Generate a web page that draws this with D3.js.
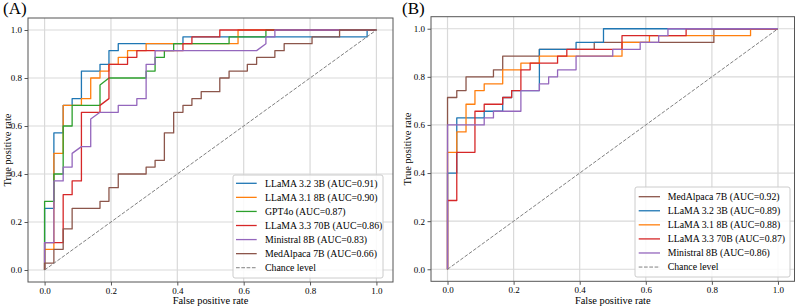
<!DOCTYPE html>
<html><head><meta charset="utf-8">
<script src="https://cdn.jsdelivr.net/npm/d3@7"></script>
<style>
body{margin:0;background:#fff}
svg{display:block}
svg text{font-family:'Liberation Serif','Times New Roman',Tinos,'DejaVu Serif',serif !important;fill:#000}
</style>
</head><body><svg id="c" width="796" height="308" style="font-family:'Liberation Serif',serif"></svg>
<script>
// ---------- data ----------
const tickValues = [0, 0.2, 0.4, 0.6, 0.8, 1.0];
const tickLabels = ["0.0", "0.2", "0.4", "0.6", "0.8", "1.0"];
const panelLetters = ["(A)", "(B)"];
const xAxisTitle = "False positive rate";
const yAxisTitle = "True positive rate";
const chanceLabel = "Chance level";
const chanceFpr = [0, 1];
const chanceTpr = [0, 1];

// Panel A
const namesA = ["LLaMA 3.2 3B", "LLaMA 3.1 8B", "GPT4o", "LLaMA 3.3 70B", "Ministral 8B", "MedAlpaca 7B"];
const aucA = ["0.91", "0.90", "0.87", "0.86", "0.83", "0.66"];
const fprA_llama32 = [0,0,0.028,0.028,0.056,0.056,0.083,0.083,0.111,0.111,0.167,0.167,0.194,0.194,0.222,0.222,0.417,0.417,0.972,0.972,1];
const tprA_llama32 = [0,0.257,0.257,0.571,0.571,0.686,0.686,0.714,0.714,0.829,0.829,0.857,0.857,0.914,0.914,0.943,0.943,0.971,0.971,1,1];
const fprA_llama31 = [0,0,0.028,0.028,0.056,0.056,0.111,0.111,0.139,0.139,0.167,0.167,0.194,0.194,0.222,0.222,0.25,0.25,0.306,0.306,0.583,0.583,1];
const tprA_llama31 = [0,0.086,0.086,0.486,0.486,0.686,0.686,0.714,0.714,0.8,0.8,0.829,0.829,0.857,0.857,0.886,0.886,0.914,0.914,0.943,0.943,1,1];
const fprA_gpt4o = [0,0,0.028,0.028,0.056,0.056,0.083,0.083,0.167,0.167,0.194,0.306,0.306,0.333,0.333,0.361,0.361,0.389,0.389,0.556,0.556,0.667,0.667,1];
const tprA_gpt4o = [0,0.286,0.286,0.4,0.4,0.6,0.6,0.686,0.686,0.771,0.8,0.8,0.829,0.829,0.886,0.886,0.914,0.914,0.943,0.943,0.971,0.971,1,1];
const fprA_llama33 = [0,0,0.056,0.056,0.083,0.083,0.111,0.111,0.167,0.167,0.194,0.194,0.25,0.25,0.278,0.278,0.417,0.417,0.444,0.444,0.528,0.528,1];
const tprA_llama33 = [0,0.114,0.114,0.314,0.314,0.371,0.371,0.657,0.657,0.686,0.714,0.857,0.857,0.886,0.886,0.914,0.914,0.943,0.943,0.971,0.971,1,1];
const fprA_ministral = [0,0,0.028,0.028,0.056,0.056,0.083,0.083,0.111,0.139,0.139,0.167,0.222,0.222,0.278,0.278,0.306,0.306,0.333,0.333,0.639,0.667,0.667,0.694,0.694,1];
const tprA_ministral = [0,0.114,0.114,0.371,0.371,0.429,0.429,0.486,0.514,0.514,0.629,0.657,0.657,0.686,0.686,0.714,0.714,0.857,0.857,0.914,0.914,0.943,0.971,0.971,1,1];
const fprA_medalpaca = [0,0,0.028,0.028,0.056,0.056,0.083,0.083,0.167,0.167,0.194,0.194,0.222,0.222,0.306,0.306,0.333,0.333,0.361,0.361,0.389,0.389,0.417,0.417,0.444,0.444,0.472,0.472,0.528,0.528,0.556,0.556,0.611,0.611,0.639,0.639,0.694,0.694,0.722,0.722,0.806,0.806,0.889,0.889,1];
const tprA_medalpaca = [0,0.029,0.029,0.086,0.086,0.171,0.171,0.257,0.257,0.286,0.286,0.343,0.343,0.4,0.4,0.429,0.429,0.457,0.457,0.571,0.571,0.657,0.657,0.686,0.686,0.714,0.714,0.743,0.743,0.8,0.8,0.829,0.829,0.857,0.857,0.886,0.886,0.914,0.914,0.943,0.943,0.971,0.971,1,1];

// Panel B
const namesB = ["MedAlpaca 7B", "LLaMA 3.2 3B", "LLaMA 3.1 8B", "LLaMA 3.3 70B", "Ministral 8B"];
const aucB = ["0.92", "0.89", "0.88", "0.87", "0.86"];
const fprB_medalpaca = [0,0,0.028,0.028,0.056,0.056,0.139,0.139,0.167,0.167,0.278,0.278,0.444,0.444,0.806,0.806,1];
const tprB_medalpaca = [0,0.714,0.714,0.743,0.743,0.8,0.8,0.829,0.829,0.886,0.886,0.914,0.914,0.943,0.943,1,1];
const fprB_llama32 = [0,0,0.028,0.028,0.111,0.111,0.167,0.167,0.194,0.194,0.278,0.278,0.389,0.389,0.472,0.472,1];
const tprB_llama32 = [0,0.4,0.4,0.629,0.629,0.657,0.657,0.714,0.714,0.743,0.743,0.914,0.914,0.943,0.943,1,1];
const fprB_llama31 = [0,0,0.028,0.028,0.056,0.056,0.083,0.083,0.111,0.111,0.167,0.167,0.222,0.222,0.278,0.278,0.528,0.528,0.611,0.611,0.917,0.917,1];
const tprB_llama31 = [0,0.486,0.486,0.571,0.571,0.686,0.686,0.743,0.743,0.771,0.771,0.829,0.829,0.857,0.857,0.886,0.886,0.943,0.943,0.971,0.971,1,1];
const fprB_llama33 = [0,0,0.028,0.028,0.083,0.083,0.111,0.111,0.167,0.167,0.194,0.194,0.222,0.222,0.25,0.25,0.333,0.333,0.361,0.361,0.528,0.528,0.722,0.722,1];
const tprB_llama33 = [0,0.286,0.286,0.486,0.486,0.657,0.657,0.686,0.686,0.714,0.714,0.743,0.743,0.829,0.829,0.857,0.857,0.886,0.886,0.914,0.914,0.971,0.971,1,1];
const fprB_ministral = [0,0,0.111,0.111,0.139,0.139,0.222,0.222,0.278,0.278,0.306,0.306,0.333,0.333,0.389,0.389,0.5,0.5,0.583,0.583,0.639,0.639,0.667,0.667,1];
const tprB_ministral = [0,0.6,0.6,0.629,0.629,0.657,0.657,0.743,0.743,0.771,0.771,0.8,0.8,0.829,0.829,0.886,0.886,0.914,0.914,0.943,0.943,0.971,0.971,1,1];

// ---------- styles ----------
const FONT = "'Liberation Serif','Times New Roman',Tinos,'DejaVu Serif',serif";
const colorsA = ["#1f77b4", "#ff7f0e", "#2ca02c", "#d62728", "#9467bd", "#8c564b"];
const colorsB = ["#8c564b", "#1f77b4", "#ff7f0e", "#d62728", "#9467bd"];

const panels = [
  {
    letter: panelLetters[0], letterX: 3,
    xr: [28, 393], yr: [282, 18],
    names: namesA, auc: aucA, colors: colorsA,
    fpr: [fprA_llama32, fprA_llama31, fprA_gpt4o, fprA_llama33, fprA_ministral, fprA_medalpaca],
    tpr: [tprA_llama32, tprA_llama31, tprA_gpt4o, tprA_llama33, tprA_ministral, tprA_medalpaca],
    legend: {x: 233, y: 175, w: 150, h: 103, row0: 183.3, lx0: 236, lx1: 256.7, tx: 265},
    ylabX: 7
  },
  {
    letter: panelLetters[1], letterX: 402,
    xr: [431, 794.5], yr: [281.3, 16.7],
    names: namesB, auc: aucB, colors: colorsB,
    fpr: [fprB_medalpaca, fprB_llama32, fprB_llama31, fprB_llama33, fprB_ministral],
    tpr: [tprB_medalpaca, tprB_llama32, tprB_llama31, tprB_llama33, tprB_ministral],
    legend: {x: 635, y: 187, w: 155, h: 90, row0: 196.7, lx0: 638.7, lx1: 660, tx: 667.7},
    ylabX: 407
  }
];

const svg = d3.select("#c");
const rowH = 14.07;

panels.forEach((p, pi) => {
  const x = d3.scaleLinear().domain([-0.05, 1.05]).range(p.xr);
  const y = d3.scaleLinear().domain([-0.05, 1.05]).range(p.yr);
  const g = svg.append("g");
  const x0 = p.xr[0], x1 = p.xr[1], y0 = p.yr[0], y1 = p.yr[1];

  // grid
  g.append("g").selectAll("line").data(tickValues).join("line")
    .attr("x1", d => x(d)).attr("x2", d => x(d)).attr("y1", y0).attr("y2", y1)
    .attr("stroke", "#d9d9d9").attr("stroke-width", 1.2);
  g.append("g").selectAll("line").data(tickValues).join("line")
    .attr("y1", d => y(d)).attr("y2", d => y(d)).attr("x1", x0).attr("x2", x1)
    .attr("stroke", "#d9d9d9").attr("stroke-width", 1.2);

  // axes
  const xAxis = d3.axisBottom(x).tickValues(tickValues).tickFormat((d, i) => tickLabels[i]).tickSizeOuter(0).tickSize(3.5).tickPadding(2);
  const yAxis = d3.axisLeft(y).tickValues(tickValues).tickFormat((d, i) => tickLabels[i]).tickSizeOuter(0).tickSize(3.5).tickPadding(2.5);
  const gx = g.append("g").attr("transform", `translate(0,${y0})`).call(xAxis);
  const gy = g.append("g").attr("transform", `translate(${x0},0)`).call(yAxis);
  [gx, gy].forEach(a => {
    a.attr("font-family", FONT).style("font-family", FONT);
    a.select(".domain").remove();
    a.selectAll(".tick line").attr("stroke", "#444").attr("stroke-width", 0.9);
    a.selectAll(".tick text").style("font-family", FONT).attr("font-size", 9).attr("fill", "#000");
  });

  // clip
  const cid = "clip" + pi;
  svg.append("clipPath").attr("id", cid).append("rect")
    .attr("x", x0).attr("y", y1).attr("width", x1 - x0).attr("height", y0 - y1);

  const line = d3.line().x(d => x(d[0])).y(d => y(d[1]));
  const plot = g.append("g").attr("clip-path", `url(#${cid})`);
  p.names.forEach((n, i) => {
    plot.append("path").datum(d3.zip(p.fpr[i], p.tpr[i]))
      .attr("d", line).attr("fill", "none")
      .attr("stroke", p.colors[i]).attr("stroke-width", 1.3)
      .attr("stroke-linejoin", "round");
  });
  plot.append("path").datum(d3.zip(chanceFpr, chanceTpr))
    .attr("d", line).attr("fill", "none")
    .attr("stroke", "#808080").attr("stroke-width", 1)
    .attr("stroke-dasharray", "3.7,1.6");

  // frame
  g.append("rect").attr("x", x0).attr("y", y1).attr("width", x1 - x0).attr("height", y0 - y1)
    .attr("fill", "none").attr("stroke", "#555").attr("stroke-width", 1);

  // legend
  const L = p.legend;
  const lg = g.append("g");
  lg.append("rect").attr("x", L.x).attr("y", L.y).attr("width", L.w).attr("height", L.h)
    .attr("rx", 2).attr("fill", "#fff").attr("fill-opacity", 0.85)
    .attr("stroke", "#cccccc").attr("stroke-width", 1);
  const entries = p.names.map((n, i) => ({label: `${n} (AUC=${p.auc[i]})`, color: p.colors[i], dash: null}));
  entries.push({label: chanceLabel, color: "#808080", dash: "3.7,1.6"});
  entries.forEach((e, i) => {
    const cy = L.row0 + i * rowH;
    lg.append("line").attr("x1", L.lx0).attr("x2", L.lx1).attr("y1", cy).attr("y2", cy)
      .attr("stroke", e.color).attr("stroke-width", e.dash ? 1 : 1.3)
      .attr("stroke-dasharray", e.dash);
    lg.append("text").attr("x", L.tx).attr("y", cy + 3.4).style("font-family", FONT)
      .attr("font-size", 9.8).text(e.label);
  });

  // labels
  g.append("text").attr("x", (x(0) + x(1)) / 2).attr("y", 304).attr("text-anchor", "middle")
    .style("font-family", FONT).attr("font-size", 10.4).text(xAxisTitle);
  g.append("text").attr("transform", `translate(${p.ylabX + 3.5},${(y0 + y1) / 2}) rotate(-90)`)
    .attr("text-anchor", "middle").style("font-family", FONT).attr("font-size", 10.4).text(yAxisTitle);
  g.append("text").attr("x", p.letterX).attr("y", 13.5).style("font-family", FONT)
    .attr("font-size", 17).text(p.letter);
});
</script>
</body></html>
